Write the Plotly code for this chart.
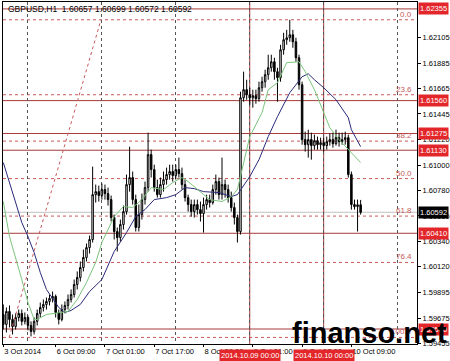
import plotly.graph_objects as go

# ---------------- DATA ----------------
bars = list(range(117))  # H1 bars, Oct 3 16:00 ... Oct 10 12:00 (weekend skipped)

opens = [1.59706, 1.59620, 1.59732, 1.59663, 1.59602, 1.59680, 1.59715, 1.59646, 1.59680, 1.59611,
         1.59559, 1.59646, 1.59715, 1.59767, 1.59793, 1.59819, 1.59845, 1.59862, 1.59723, 1.59663,
         1.59749, 1.59784, 1.59836, 1.59879, 1.59966, 1.60027, 1.60113, 1.60200, 1.60286, 1.60356,
         1.60745, 1.60771, 1.60737, 1.60789, 1.60754, 1.60702, 1.60546, 1.60425, 1.60373, 1.60486,
         1.60598, 1.60832, 1.60893, 1.60702, 1.60460, 1.60572, 1.60702, 1.60806, 1.61092, 1.60962,
         1.60806, 1.60745, 1.60832, 1.60875, 1.60919, 1.60945, 1.60910, 1.60962, 1.60927, 1.60832,
         1.60719, 1.60659, 1.60598, 1.60659, 1.60615, 1.60581, 1.60659, 1.60702, 1.60676, 1.60789,
         1.60858, 1.60745, 1.60832, 1.60789, 1.60719, 1.60633, 1.60546, 1.60425, 1.61585, 1.61655,
         1.61611, 1.61585, 1.61603, 1.61577, 1.61672, 1.61724, 1.61785, 1.61845, 1.61897, 1.61811,
         1.61759, 1.62001, 1.62088, 1.62105, 1.62131, 1.62070, 1.61932, 1.61698, 1.61222, 1.61178,
         1.61222, 1.61170, 1.61213, 1.61178, 1.61196, 1.61170, 1.61204, 1.61222, 1.61187, 1.61239,
         1.61204, 1.61222, 1.61239, 1.60919, 1.60659, 1.60641, 1.60657]

highs = [1.59793, 1.59767, 1.59784, 1.59706, 1.59715, 1.59749, 1.59749, 1.59723, 1.59697, 1.59646,
         1.59680, 1.59749, 1.59810, 1.59836, 1.59853, 1.59879, 1.59905, 1.59879, 1.59749, 1.59793,
         1.59819, 1.59879, 1.59923, 1.60009, 1.60079, 1.60165, 1.60269, 1.60321, 1.60390, 1.60988,
         1.60832, 1.60823, 1.60841, 1.60832, 1.60806, 1.60737, 1.60572, 1.60460, 1.60529, 1.60650,
         1.60919, 1.61161, 1.60945, 1.60745, 1.60659, 1.60754, 1.60858, 1.61282, 1.61135, 1.61005,
         1.60875, 1.60893, 1.60945, 1.60979, 1.61005, 1.61005, 1.61005, 1.61066, 1.60979, 1.60875,
         1.60745, 1.60702, 1.60702, 1.60702, 1.60685, 1.60719, 1.60745, 1.60745, 1.60832, 1.60919,
         1.60893, 1.61066, 1.60875, 1.60832, 1.60771, 1.60676, 1.60572, 1.61637, 1.61811, 1.61741,
         1.61672, 1.61655, 1.61655, 1.61724, 1.61767, 1.61828, 1.61958, 1.61958, 1.61932, 1.61845,
         1.62044, 1.62148, 1.62174, 1.62261, 1.62174, 1.62105, 1.61958, 1.61724, 1.61291, 1.61308,
         1.61282, 1.61265, 1.61248, 1.61239, 1.61239, 1.61248, 1.61274, 1.61282, 1.61308, 1.61282,
         1.61282, 1.61291, 1.61265, 1.60945, 1.60702, 1.60702, 1.60699]

lows = [1.59576, 1.59550, 1.59594, 1.59533, 1.59576, 1.59646, 1.59611, 1.59620, 1.59568, 1.59516,
        1.59533, 1.59611, 1.59680, 1.59732, 1.59749, 1.59784, 1.59810, 1.59680, 1.59620, 1.59646,
        1.59715, 1.59749, 1.59810, 1.59853, 1.59923, 1.59992, 1.60079, 1.60165, 1.60234, 1.60330,
        1.60676, 1.60685, 1.60702, 1.60702, 1.60650, 1.60512, 1.60356, 1.60252, 1.60338, 1.60442,
        1.60572, 1.60771, 1.60659, 1.60425, 1.60425, 1.60529, 1.60659, 1.60771, 1.60893, 1.60771,
        1.60719, 1.60719, 1.60771, 1.60832, 1.60875, 1.60858, 1.60875, 1.60893, 1.60789, 1.60685,
        1.60598, 1.60555, 1.60546, 1.60572, 1.60512, 1.60416, 1.60615, 1.60633, 1.60659, 1.60745,
        1.60702, 1.60702, 1.60719, 1.60676, 1.60598, 1.60486, 1.60330, 1.60399, 1.61551, 1.61568,
        1.61525, 1.61499, 1.61533, 1.61551, 1.61637, 1.61672, 1.61741, 1.61811, 1.61741, 1.61551,
        1.61724, 1.61958, 1.62044, 1.62070, 1.62018, 1.61897, 1.61655, 1.61178, 1.61118, 1.61066,
        1.61048, 1.61135, 1.61135, 1.61135, 1.61118, 1.61135, 1.61170, 1.61152, 1.61170, 1.61161,
        1.61178, 1.61178, 1.60893, 1.60615, 1.60615, 1.60425, 1.60572]

closes = [1.59620, 1.59732, 1.59663, 1.59602, 1.59680, 1.59715, 1.59646, 1.59680, 1.59611, 1.59559,
          1.59646, 1.59715, 1.59767, 1.59793, 1.59819, 1.59845, 1.59862, 1.59723, 1.59663, 1.59749,
          1.59784, 1.59836, 1.59879, 1.59966, 1.60027, 1.60113, 1.60200, 1.60286, 1.60356, 1.60745,
          1.60771, 1.60737, 1.60789, 1.60754, 1.60702, 1.60546, 1.60425, 1.60373, 1.60486, 1.60598,
          1.60832, 1.60893, 1.60702, 1.60460, 1.60572, 1.60702, 1.60806, 1.61092, 1.60962, 1.60806,
          1.60745, 1.60832, 1.60875, 1.60919, 1.60945, 1.60910, 1.60962, 1.60927, 1.60832, 1.60719,
          1.60659, 1.60598, 1.60659, 1.60615, 1.60581, 1.60659, 1.60702, 1.60676, 1.60789, 1.60858,
          1.60745, 1.60832, 1.60789, 1.60719, 1.60633, 1.60546, 1.60425, 1.61585, 1.61655, 1.61611,
          1.61585, 1.61603, 1.61577, 1.61672, 1.61724, 1.61785, 1.61845, 1.61897, 1.61811, 1.61759,
          1.62001, 1.62088, 1.62105, 1.62131, 1.62070, 1.61932, 1.61698, 1.61222, 1.61178, 1.61222,
          1.61170, 1.61213, 1.61178, 1.61196, 1.61170, 1.61204, 1.61222, 1.61187, 1.61239, 1.61204,
          1.61222, 1.61239, 1.60919, 1.60659, 1.60641, 1.60657, 1.60592]

# moving averages
ma_fast_bars = [0, 2, 6, 8, 10, 11, 14, 18, 21, 24, 27, 30, 32, 36, 39, 42, 45, 48, 52, 55,
                58, 60, 64, 67, 71, 74, 76, 78, 80, 84, 86, 89, 92, 96, 98, 101, 104, 106, 109, 112, 116]
ma_fast = [1.60685, 1.60382, 1.60009, 1.59810, 1.59663, 1.59663, 1.59706, 1.59724, 1.59732, 1.59836,
           1.59983, 1.60157, 1.60330, 1.60555, 1.60642, 1.60633, 1.60702, 1.60806, 1.60789, 1.60849,
           1.60893, 1.60858, 1.60771, 1.60702, 1.60685, 1.60728, 1.60789, 1.61023, 1.61248, 1.61456,
           1.61655, 1.61715, 1.61889, 1.61897, 1.61811, 1.61655, 1.61456, 1.61326, 1.61222, 1.61135, 1.61023]

ma_slow_bars = [0, 2, 6, 8, 10, 12, 14, 18, 20, 22, 25, 28, 32, 36, 40, 43, 46, 49, 53, 56,
                59, 62, 65, 70, 74, 76, 80, 83, 86, 89, 93, 97, 99, 101, 104, 108, 112, 113, 116]
ma_slow = [1.61023, 1.60849, 1.60503, 1.60382, 1.60243, 1.60070, 1.59923, 1.59767, 1.59724, 1.59741,
           1.59793, 1.59905, 1.60009, 1.60252, 1.60416, 1.60555, 1.60616, 1.60702, 1.60719, 1.60745,
           1.60806, 1.60797, 1.60771, 1.60763, 1.60728, 1.60745, 1.60901, 1.61048, 1.61248, 1.61421,
           1.61629, 1.61767, 1.61793, 1.61741, 1.61672, 1.61568, 1.61412, 1.61308, 1.61161]

# horizontal support/resistance levels (red, labelled on the price axis)
levels = [1.62355, 1.61560, 1.61275, 1.61130, 1.60410, 1.59580]
level_labels = ["1.62355", "1.61560", "1.61275", "1.61130", "1.60410", "1.59580"]

# Fibonacci retracement
fib_names = ["0.0", "23.6", "38.2", "50.0", "61.8", "76.4", "100.0"]
fib_prices = [1.62261, 1.61611, 1.61209, 1.60884, 1.60559, 1.60157, 1.59507]
fib_anchor_bars = [1.9, 31.7]
fib_anchor_prices = [1.59507, 1.62261]

# vertical lines
vline_bars = [80, 104]
vline_labels = ["2014.10.09 00:00", "2014.10.10 00:00"]

# axes
price_ticks = [1.62105, 1.61885, 1.61665, 1.61445, 1.61220, 1.61000, 1.60780,
               1.60560, 1.60340, 1.60120, 1.59895, 1.59675, 1.59455]
time_tick_bars = [0, 17, 33, 49, 65, 81, 97, 113]
time_tick_labels = ["3 Oct 2014", "6 Oct 09:00", "7 Oct 01:00", "7 Oct 17:00",
                    "8 Oct 09:00", "9 Oct 01:00", "9 Oct 17:00", "10 Oct 09:00"]
day_grid_start = 8   # Oct 6 00:00
bars_per_day = 24

bid = 1.60592
title = "GBPUSD,H1  1.60657 1.60699 1.60572 1.60592"

# ---------------- STYLE ----------------
FONT = "Liberation Sans, Arial, sans-serif"
FS = 7.5
RED_LINE = "#a83a3a"
FIB_COL = "#c85a5a"
LABEL_RED = "#e3262a"

fig = go.Figure()

fig.add_trace(go.Candlestick(
    x=bars, open=opens, high=highs, low=lows, close=closes,
    increasing=dict(line=dict(color="#000000", width=1), fillcolor="#ffffff"),
    decreasing=dict(line=dict(color="#000000", width=1), fillcolor="#000000"),
    whiskerwidth=0, showlegend=False, hoverinfo="skip",
))

fig.add_trace(go.Scatter(x=ma_slow_bars, y=ma_slow, mode="lines",
                         line=dict(color="#2a2a7a", width=1), showlegend=False, hoverinfo="skip"))
fig.add_trace(go.Scatter(x=ma_fast_bars, y=ma_fast, mode="lines",
                         line=dict(color="#7cc47c", width=1), showlegend=False, hoverinfo="skip"))

# fib diagonal
fig.add_trace(go.Scatter(x=fib_anchor_bars, y=fib_anchor_prices, mode="lines",
                         line=dict(color=FIB_COL, width=1, dash="3px,3px"),
                         showlegend=False, hoverinfo="skip"))

shapes = []
for p in fib_prices:
    shapes.append(dict(type="line", xref="paper", x0=0, x1=1, yref="y", y0=p, y1=p,
                       line=dict(color=FIB_COL, width=1, dash="3px,3px"), layer="below"))
for p in levels:
    shapes.append(dict(type="line", xref="paper", x0=0, x1=1, yref="y", y0=p, y1=p,
                       line=dict(color=RED_LINE, width=1), layer="below"))
shapes.append(dict(type="line", xref="paper", x0=0, x1=1, yref="y", y0=bid, y1=bid,
                   line=dict(color="#c0c0c0", width=1), layer="below"))
for b in vline_bars:
    shapes.append(dict(type="line", xref="x", x0=b, x1=b, yref="paper", y0=0, y1=1,
                       line=dict(color=RED_LINE, width=1), layer="below"))

annotations = []
annotations.append(dict(text=title, xref="paper", yref="paper", x=0, y=1, xanchor="left",
                        yanchor="top", xshift=3, yshift=0, showarrow=False,
                        font=dict(family=FONT, size=8.5, color="#000000")))
for name, p in zip(fib_names, fib_prices):
    annotations.append(dict(text=name, xref="paper", yref="y", x=1, y=p, xanchor="right",
                            yanchor="bottom", xshift=-3, yshift=-1, showarrow=False,
                            font=dict(family=FONT, size=8, color=FIB_COL)))
for lab, p in zip(level_labels, levels):
    annotations.append(dict(text=lab, xref="paper", yref="y", x=1, y=p, xanchor="left",
                            yanchor="middle", xshift=1, showarrow=False, bgcolor=LABEL_RED,
                            borderpad=1, font=dict(family=FONT, size=FS, color="#ffffff")))
annotations.append(dict(text=f"{bid:.5f}", xref="paper", yref="y", x=1, y=bid, xanchor="left",
                        yanchor="middle", xshift=1, showarrow=False, bgcolor="#000000",
                        borderpad=1, font=dict(family=FONT, size=FS, color="#ffffff")))
for lab, b in zip(vline_labels, vline_bars):
    annotations.append(dict(text=lab, xref="x", yref="paper", x=b, y=0, xanchor="center",
                            yanchor="top", yshift=-5, showarrow=False, bgcolor=LABEL_RED,
                            borderpad=1, font=dict(family=FONT, size=FS, color="#ffffff")))
annotations.append(dict(text="<b>finanso.net</b>", xref="paper", yref="paper", x=1, y=0,
                        xanchor="right", yanchor="bottom", xshift=32, yshift=-7,
                        showarrow=False,
                        font=dict(family=FONT, size=29, color="#000000")))

fig.update_layout(
    width=450, height=361,
    margin=dict(l=3, r=33, t=2, b=17, autoexpand=False),
    paper_bgcolor="#ffffff", plot_bgcolor="#ffffff",
    showlegend=False,
    shapes=shapes, annotations=annotations,
    xaxis=dict(
        range=[-0.1, 134.3], rangeslider=dict(visible=False), automargin=False,
        tickmode="array", tickvals=time_tick_bars, ticktext=time_tick_labels,
        tickangle=0, ticklabelposition="outside right", ticks="outside", ticklen=2,
        tickcolor="#000",
        tickfont=dict(family=FONT, size=FS, color="#000000"),
        showgrid=False, zeroline=False,
        showline=True, linecolor="#000000", linewidth=1, mirror=True,
        minor=dict(tick0=day_grid_start, dtick=bars_per_day, showgrid=True,
                   gridcolor="#555555", griddash="dot", gridwidth=1, ticks=""),
    ),
    yaxis=dict(
        side="right", range=[1.59450, 1.62415], automargin=False,
        tickmode="array", tickvals=price_ticks, tickformat=".5f",
        ticks="outside", ticklen=3, tickcolor="#000",
        tickfont=dict(family=FONT, size=FS, color="#000000"),
        showgrid=False, zeroline=False,
        showline=True, linecolor="#000000", linewidth=1, mirror=True,
    ),
)

fig.write_html("out.html")
